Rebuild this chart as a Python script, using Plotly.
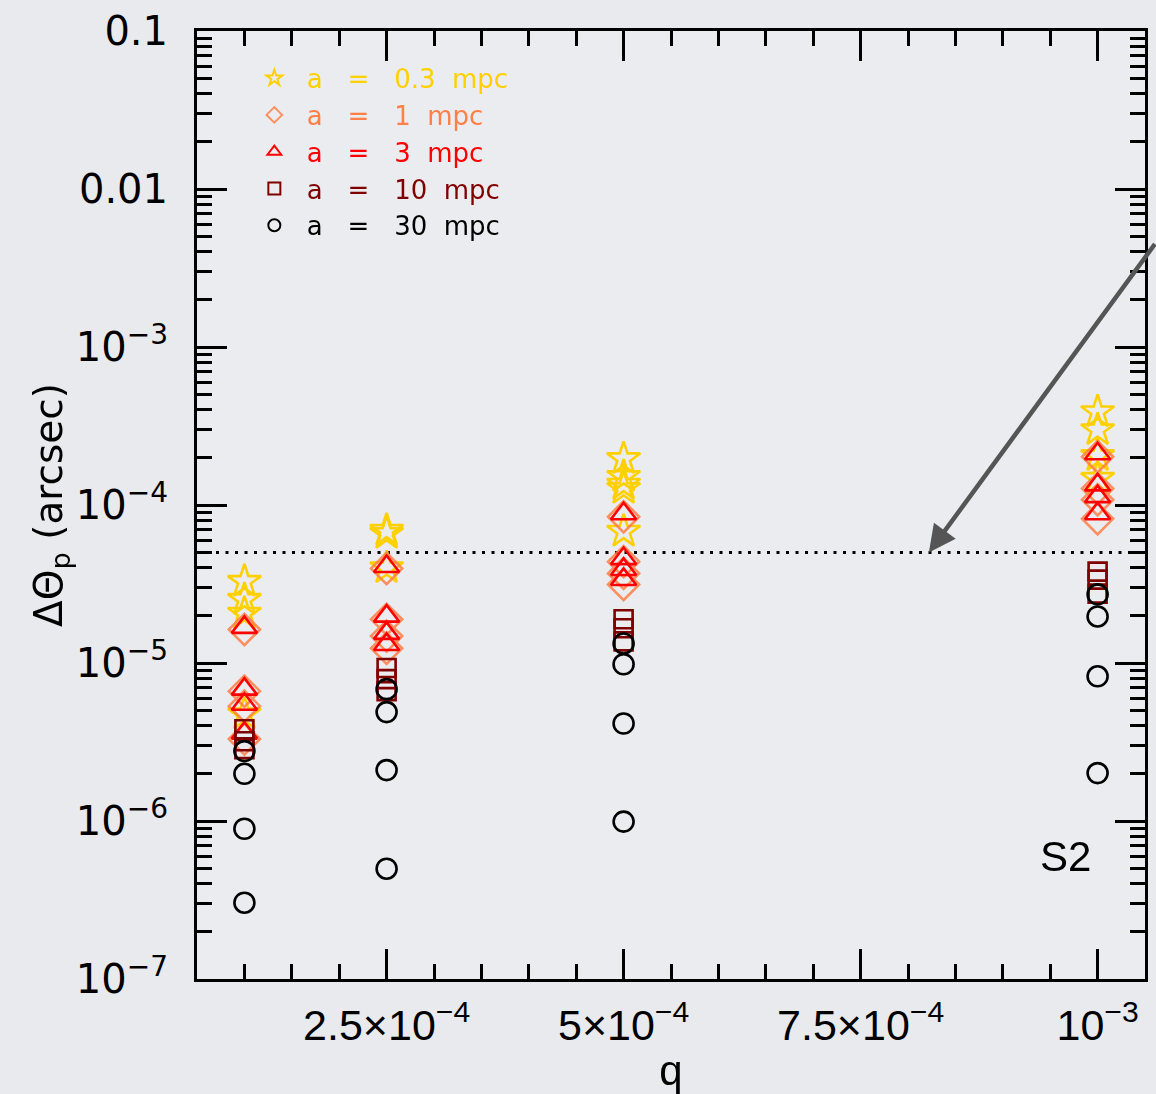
import plotly.graph_objects as go
import math

# ---- data ----
star_q = [1e-4, 1e-4, 1e-4, 1e-4, 2.5e-4, 2.5e-4, 2.5e-4, 5e-4, 5e-4, 5e-4, 5e-4, 5e-4, 1e-3, 1e-3, 1e-3, 1e-3]
star_y = [3.28e-5, 2.52e-5, 2.06e-5, 4.75e-6, 6.9e-5, 6.6e-5, 4.0e-5, 1.96e-4, 1.51e-4, 1.35e-4, 1.27e-4, 6.8e-5, 3.88e-4, 2.99e-4, 2.05e-4, 1.47e-4]

diam_q = [1e-4] * 4 + [2.5e-4] * 4 + [5e-4] * 4 + [1e-3] * 4
diam_y = [1.63e-5, 6.63e-6, 5.33e-6, 3.30e-6,
          3.96e-5, 1.89e-5, 1.48e-5, 1.24e-5,
          8.43e-5, 4.38e-5, 3.69e-5, 3.14e-5,
          2.02e-4, 1.27e-4, 1.08e-4, 8.19e-5]

tri_q = [1e-4] * 4 + [2.5e-4] * 4 + [5e-4] * 4 + [1e-3] * 4
tri_y = [1.68e-5, 6.83e-6, 5.48e-6, 3.60e-6,
         4.08e-5, 1.98e-5, 1.54e-5, 1.31e-5,
         8.81e-5, 4.58e-5, 3.91e-5, 3.38e-5,
         2.11e-4, 1.34e-4, 1.13e-4, 8.81e-5]

sq_q = [1e-4] * 3 + [2.5e-4] * 3 + [5e-4] * 3 + [1e-3] * 3
sq_y = [3.81e-6, 3.2e-6, 2.85e-6,
        9.29e-6, 7.91e-6, 6.64e-6,
        1.89e-5, 1.66e-5, 1.37e-5,
        3.79e-5, 3.37e-5, 2.75e-5]

circ_q = [1e-4] * 4 + [2.5e-4] * 4 + [5e-4] * 4 + [1e-3] * 4
circ_y = [2.77e-6, 1.99e-6, 8.93e-7, 3.04e-7,
          6.83e-6, 4.89e-6, 2.10e-6, 4.99e-7,
          1.33e-5, 9.82e-6, 4.14e-6, 9.91e-7,
          2.72e-5, 1.97e-5, 8.24e-6, 2.01e-6]

threshold = 5e-5
x_range = [0.5e-4, 1.05e-3]

series_names = ["a   =   0.3  mpc", "a   =   1  mpc", "a   =   3  mpc", "a   =   10  mpc", "a   =   30  mpc"]
series_colors = ["#FFD000", "#FF7F45", "#FF0000", "#800000", "#000000"]
series_symbols = ["star-open", "diamond-open", "triangle-up-open", "square-open", "circle-open"]
series_sizes = [25, 24, 22, 18, 20]

x_tickvals = [2.5e-4, 5e-4, 7.5e-4, 1e-3]
x_ticktext = ["2.5×10<sup>−4</sup>", "5×10<sup>−4</sup>", "7.5×10<sup>−4</sup>", "10<sup>−3</sup>"]
y_tickvals = [1e-1, 1e-2, 1e-3, 1e-4, 1e-5, 1e-6, 1e-7]
y_ticktext = ["0.1", "0.01", "10<sup>−3</sup>", "10<sup>−4</sup>", "10<sup>−5</sup>", "10<sup>−6</sup>", "10<sup>−7</sup>"]

xs = [star_q, diam_q, tri_q, sq_q, circ_q]
ys = [star_y, diam_y, tri_y, sq_y, circ_y]

fig = go.Figure()

# threshold dotted line
fig.add_trace(go.Scatter(x=x_range, y=[threshold, threshold], mode="lines", showlegend=False,
                         line=dict(color="black", width=3, dash="3px,6.5px"), hoverinfo="skip"))

for x, y, nm, col, sym, sz in zip(xs, ys, series_names, series_colors, series_symbols, series_sizes):
    label = nm.replace(" ", "&nbsp;")
    fig.add_trace(go.Scatter(
        x=x, y=y, mode="markers",
        name=f"<span style='color:{col}'>{label}</span>",
        marker=dict(symbol=sym, size=sz, color=col, line=dict(width=2.6, color=col)),
        opacity=0.85 if sym == "diamond-open" else 1.0,
    ))

fig.add_annotation(x=8.22e-4, y=math.log10(threshold), xref="x", yref="y",
                   ax=245, ay=-310, axref="pixel", ayref="pixel",
                   showarrow=True, arrowhead=2, arrowsize=1.2, arrowwidth=4.5,
                   arrowcolor="#555555", text="")

fig.add_annotation(x=0.916, y=0.1295, xref="paper", yref="paper", text="S2",
                   xanchor="center", yanchor="middle",
                   showarrow=False, font=dict(family="Liberation Sans", size=42, color="black"))

axis_common = dict(showline=True, linecolor="black", linewidth=3, mirror="ticks",
                   ticks="inside", tickwidth=2.5, tickcolor="black", showgrid=False, zeroline=False)

fig.update_xaxes(**axis_common, range=x_range, tickvals=x_tickvals, ticktext=x_ticktext,
                 ticklen=30,
                 minor=dict(ticks="inside", ticklen=15, tickwidth=2.5, tickcolor="black",
                            dtick=5e-5, tick0=0, showgrid=False),
                 tickfont=dict(family="Liberation Sans", size=43, color="black"),
                 ticklabelstandoff=6,
                 title=dict(text="q", font=dict(family="Liberation Sans", size=42, color="black"), standoff=0))

fig.update_yaxes(**axis_common, type="log", range=[-7, -1], tickvals=y_tickvals, ticktext=y_ticktext,
                 ticklen=30,
                 minor=dict(ticks="inside", ticklen=15, tickwidth=2.5, tickcolor="black",
                            dtick="D1", showgrid=False),
                 tickfont=dict(family="DejaVu Sans", size=40, color="black"),
                 ticklabelstandoff=18,
                 title=dict(text="ΔΘ<sub>p</sub> (arcsec)", font=dict(family="DejaVu Sans", size=39, color="black"), standoff=0))

fig.update_layout(
    width=1156, height=1094,
    margin=dict(l=197, r=8, t=29, b=115),
    paper_bgcolor="#e8eaee", plot_bgcolor="#eaecf0",
    legend=dict(x=0.0473, y=0.975, xanchor="left", yanchor="top", bgcolor="rgba(0,0,0,0)",
                itemsizing="constant", itemwidth=55, font=dict(family="DejaVu Sans", size=26), tracegroupgap=0),
    showlegend=True,
)

fig.write_html("out.html", config={"displayModeBar": False},
               post_script="document.body.style.margin='0px';document.body.style.overflow='hidden';")
